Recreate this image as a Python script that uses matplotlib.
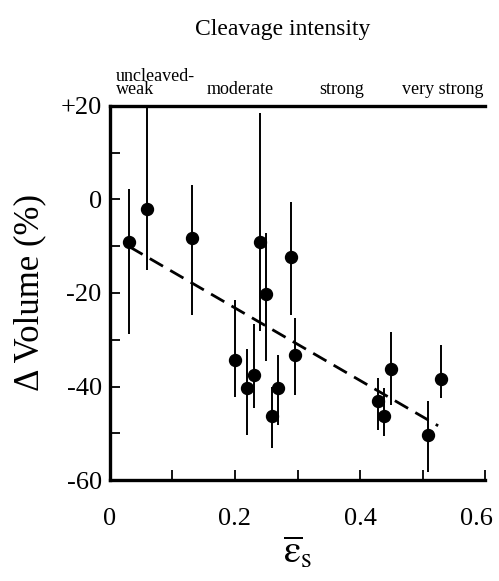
import numpy as np
import matplotlib
matplotlib.use('Agg')
import matplotlib.pyplot as plt
import matplotlib.transforms as mtransforms

plt.rcParams['font.family'] = ['Liberation Serif', 'DejaVu Serif']
plt.rcParams['mathtext.fontset'] = 'stix'

# strain (x), volume change (%), error bar limits
strain = [0.031, 0.060, 0.131, 0.240, 0.249, 0.290, 0.200, 0.219, 0.230,
          0.259, 0.268, 0.296, 0.429, 0.439, 0.449, 0.509, 0.529]
dvol = [-9.1, -2.1, -8.2, -9.1, -20.3, -12.3, -34.3, -40.4, -37.5,
        -46.4, -40.4, -33.3, -43.2, -46.4, -36.2, -50.4, -38.4]
err_top = [2.2, 20.0, 3.1, 18.6, -7.1, -0.5, -21.6, -32.0, -26.7,
           -40.1, -33.3, -25.4, -38.1, -40.3, -28.3, -43.1, -31.1]
err_bot = [-28.8, -15.1, -24.8, -28.1, -34.5, -24.8, -42.2, -50.4, -44.7,
           -53.2, -48.2, -41.9, -49.4, -50.6, -44.0, -58.3, -42.4]

# regression line end points
fit_x = [0.031, 0.525]
fit_y = [-10.1, -48.4]

# cleavage intensity classes along the top
classes = ['uncleaved-\nweak', 'moderate', 'strong', 'very strong']
class_x = [0.01, 0.208, 0.371, 0.533]
class_ha = ['left', 'center', 'center', 'center']

fig = plt.figure(figsize=(4.99, 5.81), dpi=100)
ax = fig.add_axes([0.2204, 0.1738, 0.7516, 0.6438])

dvol = np.array(dvol)
yerr = [dvol - np.array(err_bot), np.array(err_top) - dvol]
ax.errorbar(strain, dvol, yerr=yerr, fmt='o', color='black', ms=8.6,
            elinewidth=1.4, capsize=0, zorder=3)
ax.plot(fit_x, fit_y, color='black', lw=2.0, dashes=(5.5, 3.0), zorder=2)

ax.set_xlim(0, 0.6)
ax.set_ylim(-60, 20)
ax.set_xticks(np.arange(0, 0.61, 0.1))
ax.set_xticklabels(['0', '', '0.2', '', '0.4', '', '0.6'])
ax.set_yticks(np.arange(-60, 21, 10))
ax.set_yticklabels(['-60', '', '-40', '', '-20', '', '0', '', '+20'])
ax.tick_params(direction='in', length=7, width=1.3, labelsize=19)
ax.tick_params(axis='x', pad=20)
ax.tick_params(axis='y', pad=6)

# last x label sits a little left in the original
last = ax.get_xticklabels()[-1]
last.set_transform(last.get_transform() +
                   mtransforms.ScaledTranslation(-9 / 100, 0, fig.dpi_scale_trans))

for s in ['left', 'bottom', 'top']:
    ax.spines[s].set_linewidth(2.4)
ax.spines['right'].set_visible(False)

for lab, cx, ha in zip(classes, class_x, class_ha):
    ax.text(cx, 1.02, lab, transform=ax.get_xaxis_transform(), ha=ha,
            va='bottom', fontsize=13, linespacing=0.75)

fig.text(0.567, 0.95, 'Cleavage intensity', ha='center', va='center',
         fontsize=17)
ax.set_ylabel('Δ Volume (%)', fontsize=25, labelpad=10)
ax.set_xlabel(r'$\overline{\mathrm{\varepsilon}}_{\mathrm{s}}$', fontsize=28,
              labelpad=4)

fig.savefig('out.png', dpi=100)
